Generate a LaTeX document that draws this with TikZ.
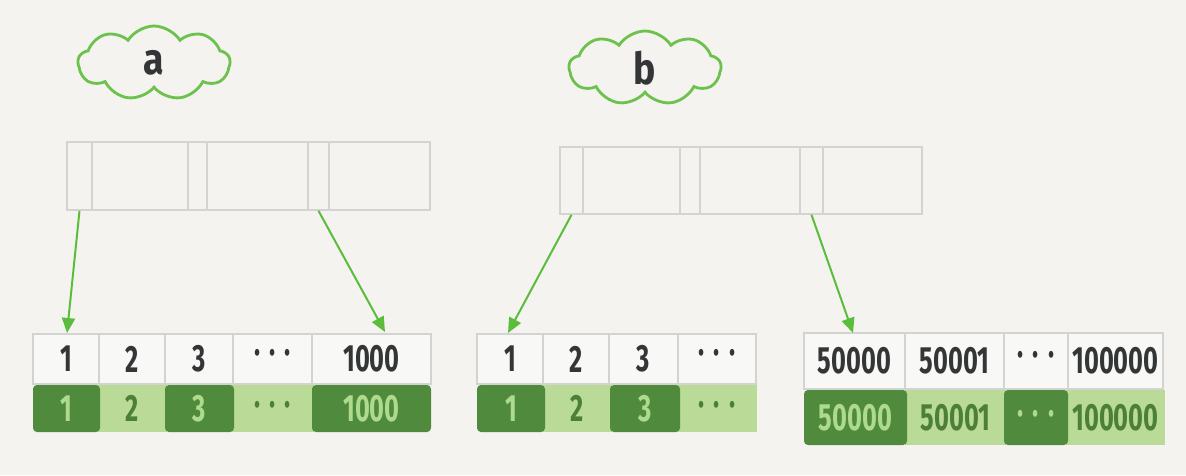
\documentclass[tikz,border=0pt]{standalone}
\usepackage{fontspec}
\setmainfont{Fira Sans}
\newfontfamily\hand[FakeStretch=0.67]{Fira Sans}
\newfontfamily\handb[FakeStretch=0.85]{Fira Sans}
\usetikzlibrary{arrows.meta,shapes.symbols}
\definecolor{bg}{HTML}{F4F3F0}
\definecolor{boxg}{HTML}{D3D3D1}
\definecolor{cellw}{HTML}{F8F8F6}
\definecolor{ink}{HTML}{333536}
\definecolor{cloudg}{HTML}{6CC24C}
\definecolor{arrg}{HTML}{5BBD3C}
\definecolor{darkg}{HTML}{508A3C}
\definecolor{lightg}{HTML}{BADB98}
\definecolor{paletxt}{HTML}{AEDA8E}
\definecolor{deeptxt}{HTML}{4C7F38}
\newcommand\mydots{\textperiodcentered\hspace{9pt}\textperiodcentered\hspace{9pt}\textperiodcentered}
\tikzset{
  digits/.style={font=\hand\bfseries\fontsize{38}{38}\selectfont},
  topbox/.style={draw=boxg, line width=1.6, fill=none, inner sep=0},
  topcell/.style={draw=boxg, line width=1.6, fill=cellw, inner sep=0, text=ink, digits},
  darkcell/.style={fill=darkg, rounded corners=4, inner sep=0, text=paletxt, digits},
  lightcell/.style={fill=lightg, inner sep=0, text=deeptxt, digits},
  cloudlabel/.style={cloud, cloud puffs=9, cloud puff arc=115, aspect=2.1, draw=cloudg,
    line width=2.8, inner sep=0, minimum width=152, minimum height=74, text=ink,
    font=\handb\bfseries\fontsize{44}{44}\selectfont},
  arr/.style={draw=arrg, line width=2, -{Triangle[length=15,width=13]}, arrg},
}
% name, x1, x2, ytop, ybot, style, text
\newcommand\mycell[7]{\node[#6, minimum width={#3-#2}, minimum height={#5-#4}] (#1) at ({(#2+#3)/2},{(#4+#5)/2}) {#7};}
\begin{document}
\begin{tikzpicture}[x=1pt,y=-1pt]
\fill[bg] (0,0) rectangle (1186,475);
\useasboundingbox (0,0) rectangle (1186,475);

% clouds
\node[cloudlabel] (ca) at (154,63) {a};
\node[cloudlabel] (cb) at (645,68) {b};

% top box a
\mycell{ta1}{67}{92}{142}{210}{topbox}{}
\mycell{ta2}{92}{188}{142}{210}{topbox}{}
\mycell{ta3}{188}{207}{142}{210}{topbox}{}
\mycell{ta4}{207}{308}{142}{210}{topbox}{}
\mycell{ta5}{308}{329}{142}{210}{topbox}{}
\mycell{ta6}{329}{430}{142}{210}{topbox}{}

% top box b
\mycell{tb1}{560}{583}{147}{214}{topbox}{}
\mycell{tb2}{583}{680}{147}{214}{topbox}{}
\mycell{tb3}{680}{700}{147}{214}{topbox}{}
\mycell{tb4}{700}{800}{147}{214}{topbox}{}
\mycell{tb5}{800}{823}{147}{214}{topbox}{}
\mycell{tb6}{823}{922}{147}{214}{topbox}{}

% leaf a
\mycell{la1}{33}{99}{334}{384}{topcell}{1}
\mycell{la2}{99}{165}{334}{384}{topcell}{2}
\mycell{la3}{165}{233}{334}{384}{topcell}{3}
\mycell{la4}{233}{312}{334}{384}{topcell}{\raisebox{4pt}{\mydots}}
\mycell{la5}{312}{431}{334}{384}{topcell}{1000}
\mycell{ma2}{97}{167}{385}{432}{lightcell}{2}
\mycell{ma4}{231}{314}{385}{432}{lightcell}{\mydots}
\mycell{ma1}{33}{100}{385}{432}{darkcell}{1}
\mycell{ma3}{165}{234}{385}{432}{darkcell}{3}
\mycell{ma5}{312}{431}{385}{432}{darkcell}{1000}

% leaf b1
\mycell{lb1}{477}{543}{334}{384}{topcell}{1}
\mycell{lb2}{543}{609}{334}{384}{topcell}{2}
\mycell{lb3}{609}{678}{334}{384}{topcell}{3}
\mycell{lb4}{678}{756}{334}{384}{topcell}{\raisebox{4pt}{\mydots}}
\mycell{mb2}{542}{612}{385}{432}{lightcell}{2}
\mycell{mb4}{677}{757}{385}{432}{lightcell}{\mydots}
\mycell{mb1}{477}{545}{385}{432}{darkcell}{1}
\mycell{mb3}{610}{680}{385}{432}{darkcell}{3}

% leaf b2
\mycell{lc1}{804}{905}{333}{389}{topcell}{50000}
\mycell{lc2}{905}{1004}{333}{389}{topcell}{50001}
\mycell{lc3}{1004}{1068}{333}{389}{topcell}{\raisebox{4pt}{\mydots}}
\mycell{lc4}{1068}{1163}{333}{389}{topcell}{100000}
\mycell{mc2}{905}{1006}{390}{445}{lightcell}{50001}
\mycell{mc4}{1066}{1165}{390}{445}{lightcell}{100000}
\mycell{mc1}{804}{907}{390}{445}{darkcell}{50000}
\mycell{mc3}{1004}{1068}{390}{445}{darkcell}{\mydots}

% arrows
\coordinate (ea1) at (67,333);
\coordinate (ea2) at (385,332);
\coordinate (eb1) at (508,333);
\coordinate (eb2) at (853,333);
\draw[arr] (ta1.south) -- (ea1);
\draw[arr] (ta5.south) -- (ea2);
\draw[arr] (tb1.south) -- (eb1);
\draw[arr] (tb5.south) -- (eb2);
\end{tikzpicture}
\end{document}
